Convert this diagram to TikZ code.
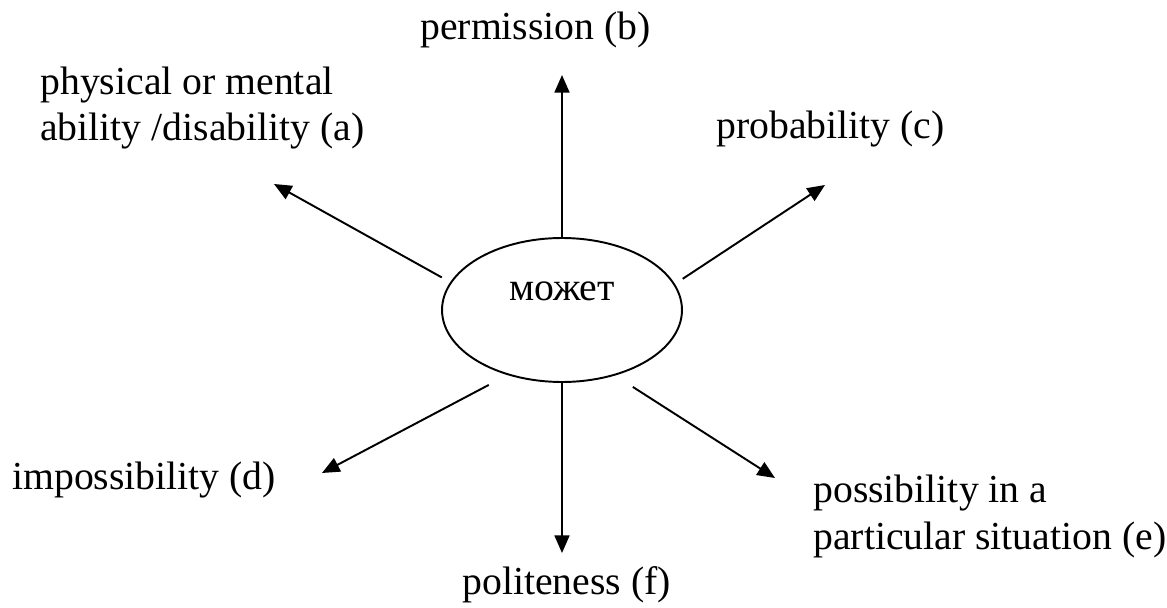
\documentclass[tikz,border=0pt]{standalone}
\usepackage{fontspec}
\setmainfont{Liberation Serif}
\usetikzlibrary{arrows.meta, shapes.geometric}

\newcommand\lblfont{\fontsize{22.6pt}{26.2pt}\selectfont}

\begin{document}
\begin{tikzpicture}[
  x=0.02cm, y=-0.02cm,
  lbl/.style={inner sep=0pt, font=\lblfont, align=left},
  hub/.style={ellipse, draw, line width=1.1pt, minimum width=4.8cm,
              minimum height=2.88cm, inner sep=0pt},
  arr/.style={-{Triangle[length=10pt, width=8.5pt]}, line width=1.1pt},
]
\useasboundingbox (0,0) rectangle (1167,608);

% ---- centre ----
\node[hub] (moz) at (562,310) {};
\node[lbl, anchor=base] (mozt) at (562,300) {может};

% ---- meanings (base = last line) ----
\node[lbl, anchor=base west] (perm)   at (420,40)  {permission (b)};
\node[lbl, anchor=base west] (phys)   at (40,141)  {physical or mental\\ability /disability (a)};
\node[lbl, anchor=base west] (prob)   at (716,139) {probability (c)};
\node[lbl, anchor=base west] (imposs) at (12,489)  {impossibility (d)};
\node[lbl, anchor=base west] (poss)   at (813,549) {possibility in a\\particular situation (e)};
\node[lbl, anchor=base west] (polit)  at (462,594) {politeness (f)};

% ---- arrow tips ----
\coordinate (ta) at (274,184);
\coordinate (tb) at (562,75);
\coordinate (tc) at (825,185);
\coordinate (td) at (322,473);
\coordinate (te) at (775,478);
\coordinate (tf) at (562,553);

% ---- arrows ----
\draw[arr] (moz.north) -- (tb);
\draw[arr] (moz.south) -- (tf);
\draw[arr, shorten <=5.5pt] (moz.166.8) -- (ta);
\draw[arr, shorten <=5.3pt] (moz.13) -- (tc);
\draw[arr, shorten <=12pt]  (moz.230.9) -- (td);
\draw[arr, shorten <=12pt]  (moz.309.5) -- (te);

\end{tikzpicture}
\end{document}
